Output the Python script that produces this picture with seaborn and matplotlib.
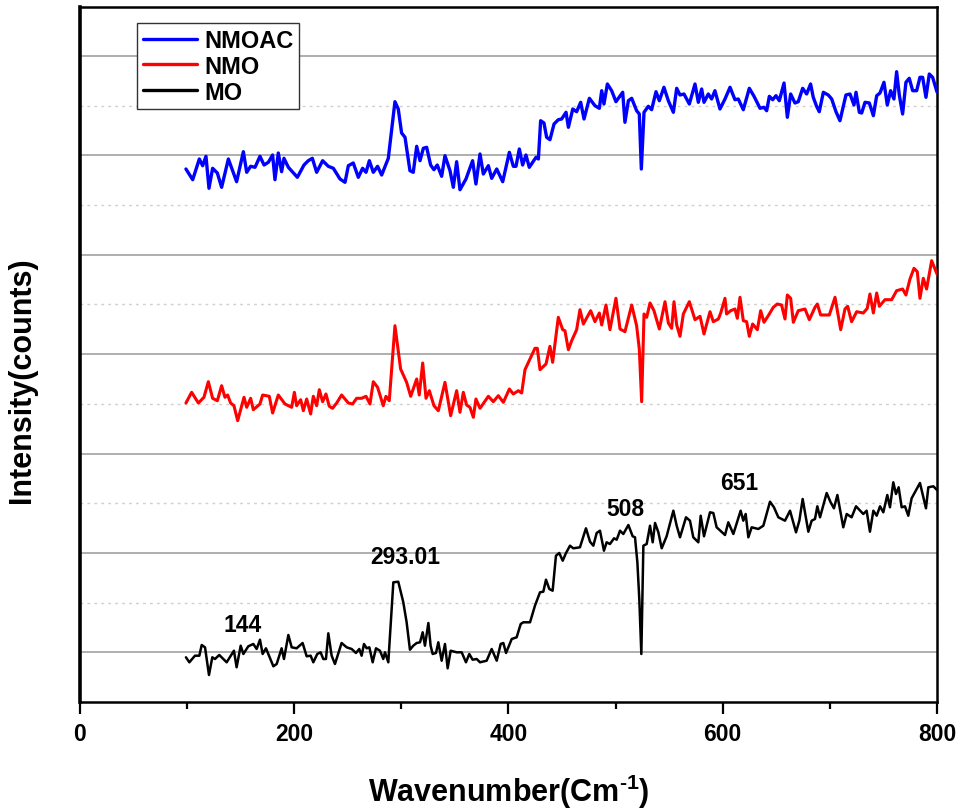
import matplotlib
matplotlib.use("Agg")
import matplotlib.pyplot as plt
from matplotlib.ticker import MultipleLocator
from matplotlib.font_manager import FontProperties
import seaborn as sns
import pandas as pd

# ---------------- data (wavenumber cm^-1, intensity counts, offset-stacked) ----------------
SERIES = ["NMOAC", "NMO", "MO"]
COLORS = {"NMOAC": "#0000FF", "NMO": "#FF0000", "MO": "#000000"}

MO = [(98.9,44.7),(102.1,39.7),(107.3,46.3),(111.4,46.3),(113.6,57),(116.7,54.7),(120.4,27),(123.5,44.7),(126,43),(130,47),(136.9,39.7),(143.7,51.3),(146.2,34.7),(150,56.3),(152.5,48),(157.1,55.7),(161.8,58),(164.9,53),(168,62.3),(170.5,48),(173.6,53.7),(180.5,35.7),(183.6,38),(188.2,53.7),(190.4,43),(194.5,67),(197.6,54.7),(202.2,53.7),(207.8,59),(211.6,45.7),(215.3,46.3),(217.8,39.7),(221.5,48),(224.6,49.7),(227.1,43),(229.6,43),(231.8,68.7),(234.9,46.3),(238,38),(244.2,59),(248.9,54.7),(253.6,53),(257.6,49),(260.7,53),(262.9,46.3),(265.1,58),(267.6,53.7),(270.1,54.7),(273.2,39.7),(276.3,53.7),(280,51.3),(283.1,43),(284.7,49.7),(287.8,39.7),(292.5,119.7),(297.1,120.3),(301.8,99.7),(304.9,79.7),(308,52.3),(311.1,56.3),(314.3,59),(317.4,59.7),(319.9,69.7),(322,56.3),(325.2,79),(327.3,56.3),(329.2,48),(332.3,49),(334.5,59.7),(337.6,41.3),(340.7,58),(343.2,33.7),(346,51.3),(351.6,49.7),(356.3,49.7),(360.3,39.7),(363.4,48),(366.5,42.3),(370.3,43),(373.4,39.7),(379.6,41.3),(384.3,53),(389,41.3),(392.7,58),(395.2,59),(397.7,49),(403,63),(407.6,64.7),(411.4,78),(413.8,79.7),(420.1,79.7),(424.7,96.3),(429.4,109.7),(432.5,110.3),(435,122.3),(438.1,113),(441.2,111.3),(444.3,146.3),(447.4,149),(450.6,141.3),(453.7,149),(457.4,156.3),(460.5,153.7),(466.7,154.7),(472.3,173.7),(476.1,160.3),(479.2,156.3),(482.3,169),(485.4,171.3),(489.1,151.3),(491.6,159.7),(494.7,158),(498.5,163.7),(501,162.3),(504.1,171.3),(507.2,168),(511.9,177),(515.9,165.7),(518.1,164.7),(520.3,139.7),(522.1,103),(524,48),(525.9,156.3),(529,158),(532.1,176.3),(534.6,159.7),(536.8,179),(539.9,169.7),(543,153.7),(547.6,165.7),(553.9,191.3),(557,176.3),(560.1,164.7),(565.7,184.7),(569.4,181.3),(572.5,164.7),(577.2,159.7),(579.4,186.3),(582.5,165.7),(588.1,189.7),(591.2,189),(594.3,174.7),(602.1,167),(605.2,179.7),(609.9,168),(614.5,183.7),(616.7,191.3),(619.2,181.3),(621.4,188),(623.9,164.7),(627,174.7),(633.2,173),(637.9,176.3),(644.1,200.3),(647.8,194.7),(651.9,184.7),(658.1,181.3),(662.8,191.3),(668.4,169.7),(671.5,181.3),(674.6,203),(679.9,170.3),(683,181.3),(686.1,183),(688.3,195.7),(690.8,184.7),(697,209),(700.7,199.7),(703.8,193.7),(707,207),(712.5,174.7),(715.7,188),(720.3,184.7),(724.4,195.7),(731.2,188),(734.3,191.3),(737.4,170.3),(740.6,191.3),(743.7,186.3),(746.8,195.7),(749.9,189.7),(753.6,207),(756.1,194.7),(759.2,219.7),(761.7,208),(764.2,214.7),(767,194.7),(770.1,195.7),(773.2,186.3),(776.3,203.7),(784.1,219),(789.7,193.7),(791.9,214.7),(796.6,215.7),(800,212)]

NMO = [(98.9,299),(104.2,309.7),(110.5,299),(115.7,304.7),(119.8,320.3),(123.8,303.7),(128.2,301.3),(132.2,316.3),(135.3,304.7),(137.8,307),(140.6,299),(143.7,296.3),(147.2,281.3),(153.1,304.7),(155.6,294.7),(159.3,303.7),(161.8,292.3),(168,298),(170.5,307),(176.7,305.7),(179.8,289),(185.1,307),(191.4,298),(197.6,294.7),(200.1,309.7),(202.2,296.3),(206,302.3),(208.5,291.3),(211.6,303),(215.3,288),(217.8,305.7),(220.9,296.3),(223.4,312.3),(226.5,300.3),(229.6,308),(232.7,295.7),(235.8,293.7),(239.6,299),(244.2,307),(250.5,299),(254.5,298),(258.2,303.7),(262.9,303.7),(267,305.7),(270.7,298),(273.8,320.3),(277.8,314.7),(283.1,296.3),(285.6,305.7),(288.7,301.3),(294,376.3),(299.3,333),(304.9,319.7),(308.7,305.7),(314.3,323),(316.7,307),(319.9,339),(323,303.7),(326.1,311.3),(330.4,296.3),(334.5,291.3),(340.7,319.7),(346,286.3),(351.6,311.3),(354.7,289.7),(357.8,309.7),(360.9,297),(364,294.7),(367.2,284.7),(369.6,303),(373.4,293.7),(381.2,305.7),(385.8,300.3),(390.5,306.3),(395.2,299.7),(400.8,313),(404.5,308),(409.2,311.3),(412.3,309),(415.4,332.3),(420.1,343),(424.7,353.7),(426.9,353.7),(429.4,332.3),(435,338),(438.7,355.7),(441.2,339.7),(446.5,384.7),(450.6,372.3),(452.7,371.3),(455.9,352.3),(459,361.3),(463.6,372.3),(466.7,392.3),(469.9,378),(476.7,391.3),(480.7,380.3),(484.8,389),(487,377),(491,397),(494.7,372.3),(500.3,403.7),(504.1,373),(508.7,370.3),(515,397),(519.6,376.3),(522.1,353),(524.3,300.3),(526.5,388),(529,384.7),(532.1,399),(535.8,391.3),(540.8,373),(546.1,400.3),(549.2,379),(552.3,373.7),(554.5,400.3),(557,377),(560.1,365.7),(563.2,388),(568.8,400.3),(574.1,382.3),(578.8,385.7),(582.5,368),(588.1,390.3),(591.2,380.3),(595.9,383),(598.1,389),(602.1,403.7),(603.6,388),(607.4,391.3),(611.4,393),(613.6,383.7),(616.1,404.7),(619.2,381.3),(622.3,380.3),(624.8,365.7),(627.9,378),(632.3,372.3),(635.4,391.3),(638.5,379.7),(642.5,386.3),(647.2,394.7),(650.9,398),(654.9,397),(658.1,383),(660.3,407),(663.4,403.7),(665.9,379.7),(670.5,391.3),(676.8,393),(680.8,382.3),(686.1,394.7),(688.3,398),(691.4,387),(699.5,387),(704.8,404.7),(710.1,372.3),(714.1,393),(716.6,395.7),(720.3,380.3),(725,390.3),(731.2,389),(734.9,393.7),(737.4,408),(740.6,389),(743.7,409),(746.2,395.7),(751.4,402.3),(757.7,402.3),(762.3,411.3),(767.9,413),(771,407),(774.8,423),(778.5,433.7),(781.6,430.3),(784.1,403.7),(787.2,423.7),(790.3,413),(795,441.3),(800,428)]

NMOAC = [(98.9,533),(105.2,522.3),(111.4,543),(114.5,536.3),(117.6,545.7),(120.4,513.7),(123.8,533.7),(128.2,529),(132.2,514.7),(138.5,543),(146.2,520.3),(152.5,550.3),(155.6,529.7),(159.3,535.7),(163.4,534.7),(168,545.7),(171.8,537),(175.8,539.7),(179.8,547),(182,522.3),(185.1,549),(188.2,530.3),(190.4,543.7),(194.5,534.7),(202.9,524.7),(209.1,537),(213.1,541.3),(216.9,543.7),(220.9,529.7),(226.5,541.3),(231.8,535.7),(236.5,533.7),(242.7,523),(247.4,519.7),(250.5,536.3),(255.1,539),(259.8,524.7),(263.8,533.7),(267,529.7),(270.1,541.3),(273.8,529.7),(277.8,535.7),(281.6,527),(287.8,543.7),(294,600.3),(297.1,593),(300.2,569),(303.4,564.7),(308,531.3),(311.1,529.7),(314.3,555.7),(317.4,541.3),(320.5,553.7),(323.6,554.7),(327.3,537),(330.4,532.3),(333.5,537),(337.6,525.7),(340.7,546.3),(345.4,531.3),(348.5,514.7),(351.6,540.3),(354.7,512.3),(360.3,523),(366.5,541.3),(369.6,518),(373.4,548),(376.5,528),(381.2,536.3),(384.3,523.7),(389,533),(394.6,520.3),(400.8,549.7),(404.5,535.7),(407,535.7),(410.1,553),(413.2,537),(416.3,547),(419.4,534.7),(425.7,544.7),(427.9,543),(430,581.3),(433.1,579),(435.6,564.7),(438.7,562.3),(442.5,578),(446.5,582.3),(449.6,583),(453.7,589.7),(455.9,574.7),(460,593),(463.6,590.3),(467.4,599.7),(470.5,583),(475.5,603.7),(480.7,596.3),(484.8,593.7),(487,611.3),(489.1,598),(492.3,618),(496.3,611.3),(500.3,600.3),(506.6,609.7),(508.7,579.7),(511.9,601.3),(515,603.7),(519.6,591.3),(522.1,588),(524,533),(526.5,589.7),(530.5,595.7),(533.6,592.3),(537.7,610.3),(540.8,601.3),(545.1,614.7),(549.2,601.3),(553.9,589.7),(557,613.7),(560.1,607),(563.8,608),(568.8,598),(574.1,618),(577.2,599.7),(580.3,613),(582.5,599.7),(586.5,608),(589.6,603),(592.7,611.3),(597.4,593),(602.1,603),(606.8,614.7),(611.4,602.3),(614.5,603),(619.2,592.3),(624.8,613.7),(629.2,605.7),(634.8,593.7),(638.5,594.7),(641,591.3),(643.5,605.7),(646.6,602.3),(649.7,606.3),(652.8,601.3),(657.2,619),(660.3,584.7),(663.4,608),(667.4,599),(670.5,600.3),(674.6,613.7),(678.3,608),(682,618),(684.5,604.7),(687.6,595.7),(690.1,590.3),(693.9,609.7),(698.5,607),(701.7,603),(705.7,590.3),(709.4,581.3),(715,607),(718.8,608),(722.5,597),(724.4,609.7),(727.5,589.7),(729.7,589),(732.8,599.7),(736.8,599),(740.6,586.3),(743.7,606.3),(746.8,609),(750.5,619.7),(753.6,597),(756.7,611.3),(759.8,603),(762.3,630.3),(764.8,607),(767.9,588),(771,619.7),(774.1,623.7),(777.3,611.3),(781,611.3),(784.1,624.7),(786.6,624.7),(789.7,604.7),(792.8,628),(795.9,624.7),(800,610)]

# peak annotations on the MO spectrum: (text, wavenumber, intensity)
PEAK_LABELS = [("144", 152, 78), ("293.01", 303.4, 145.7), ("508", 508.8, 193), ("651", 615.5, 219.7)]

X_TICKS = [0, 200, 400, 600, 800]
X_LABEL = "Wavenumber(Cm$^{\\text{-1}}$)"
Y_LABEL = "Intensity(counts)"

# ---------------- style ----------------
sns.set_style("ticks")
plt.rcParams["font.family"] = ["Liberation Sans", "DejaVu Sans"]
plt.rcParams["font.weight"] = "bold"
plt.rcParams["mathtext.fontset"] = "custom"
plt.rcParams["mathtext.rm"] = "Liberation Sans:bold"
plt.rcParams["mathtext.bf"] = "Liberation Sans:bold"
plt.rcParams["text.color"] = "black"
plt.rcParams["axes.labelcolor"] = "black"
plt.rcParams["xtick.color"] = "black"
plt.rcParams["ytick.color"] = "black"

frames = []
for name, pts in (("NMOAC", NMOAC), ("NMO", NMO), ("MO", MO)):
    d = pd.DataFrame(pts, columns=["wavenumber", "intensity"])
    d["sample"] = name
    frames.append(d)
df = pd.concat(frames, ignore_index=True)

fig = plt.figure(figsize=(9.62, 8.12), dpi=100)
ax = fig.add_axes([80 / 962, 1 - 703 / 812, 857 / 962, 695 / 812])

widths = {"NMOAC": 2.4, "NMO": 2.2, "MO": 1.8}
for name in SERIES:
    sub = df[df["sample"] == name]
    sns.lineplot(data=sub, x="wavenumber", y="intensity", color=COLORS[name],
                 linewidth=widths[name], label=name, ax=ax, sort=False,
                 estimator=None, zorder=3)

ax.set_xlim(0, 800)
ax.set_ylim(0, 695)
ax.set_xticks(X_TICKS)
ax.xaxis.set_minor_locator(MultipleLocator(100))
ax.yaxis.set_major_locator(MultipleLocator(99.4, offset=49.7))
ax.yaxis.set_minor_locator(MultipleLocator(99.4))

ax.grid(which="major", axis="y", color="#a8a8a8", linewidth=1.3, linestyle="-", zorder=0)
ax.grid(which="minor", axis="y", color="#cfcfcf", linewidth=1.0, linestyle=(0, (2, 3)), zorder=0)
ax.grid(which="both", axis="x", visible=False)
ax.set_axisbelow(True)

ax.tick_params(axis="x", which="major", direction="out", length=8.6, width=1.6,
               labelsize=16.5, pad=6, colors="black")
ax.tick_params(axis="x", which="minor", direction="out", length=5, width=1.6, colors="black")
ax.tick_params(axis="y", which="both", length=0, labelleft=False)
for lab in ax.get_xticklabels():
    lab.set_fontweight("bold")
    lab.set_color("black")

for side in ["top", "right", "bottom", "left"]:
    ax.spines[side].set_visible(True)
    ax.spines[side].set_color("black")
    ax.spines[side].set_linewidth(1.8)
ax.spines["left"].set_linewidth(2.6)

ax.set_xlabel(X_LABEL, fontsize=22, fontweight="bold", color="black")
ax.set_ylabel(Y_LABEL, fontsize=22, fontweight="bold", color="black")
ax.xaxis.set_label_coords(0.5, -0.1)
ax.xaxis.label.set_verticalalignment("top")
ax.yaxis.set_label_coords(-0.05, 0.465)

for txt, xv, yv in PEAK_LABELS:
    ax.text(xv, yv, txt, ha="center", va="center", fontsize=16.5,
            fontweight="bold", color="black", zorder=4)

leg = ax.legend(loc="upper left", bbox_to_anchor=(0.0665, 0.977), borderaxespad=0,
                frameon=True, fancybox=False, framealpha=1, edgecolor="#333333",
                prop=FontProperties(family="Liberation Sans", weight="bold", size=17),
                handlelength=2.3, handletextpad=0.3, labelspacing=0.12, borderpad=0.25)
leg.get_frame().set_linewidth(1.0)
for line in leg.get_lines():
    line.set_linewidth(2.4)
for t in leg.get_texts():
    t.set_color("black")
leg.set_zorder(5)

fig.savefig("out.png", dpi=100)
